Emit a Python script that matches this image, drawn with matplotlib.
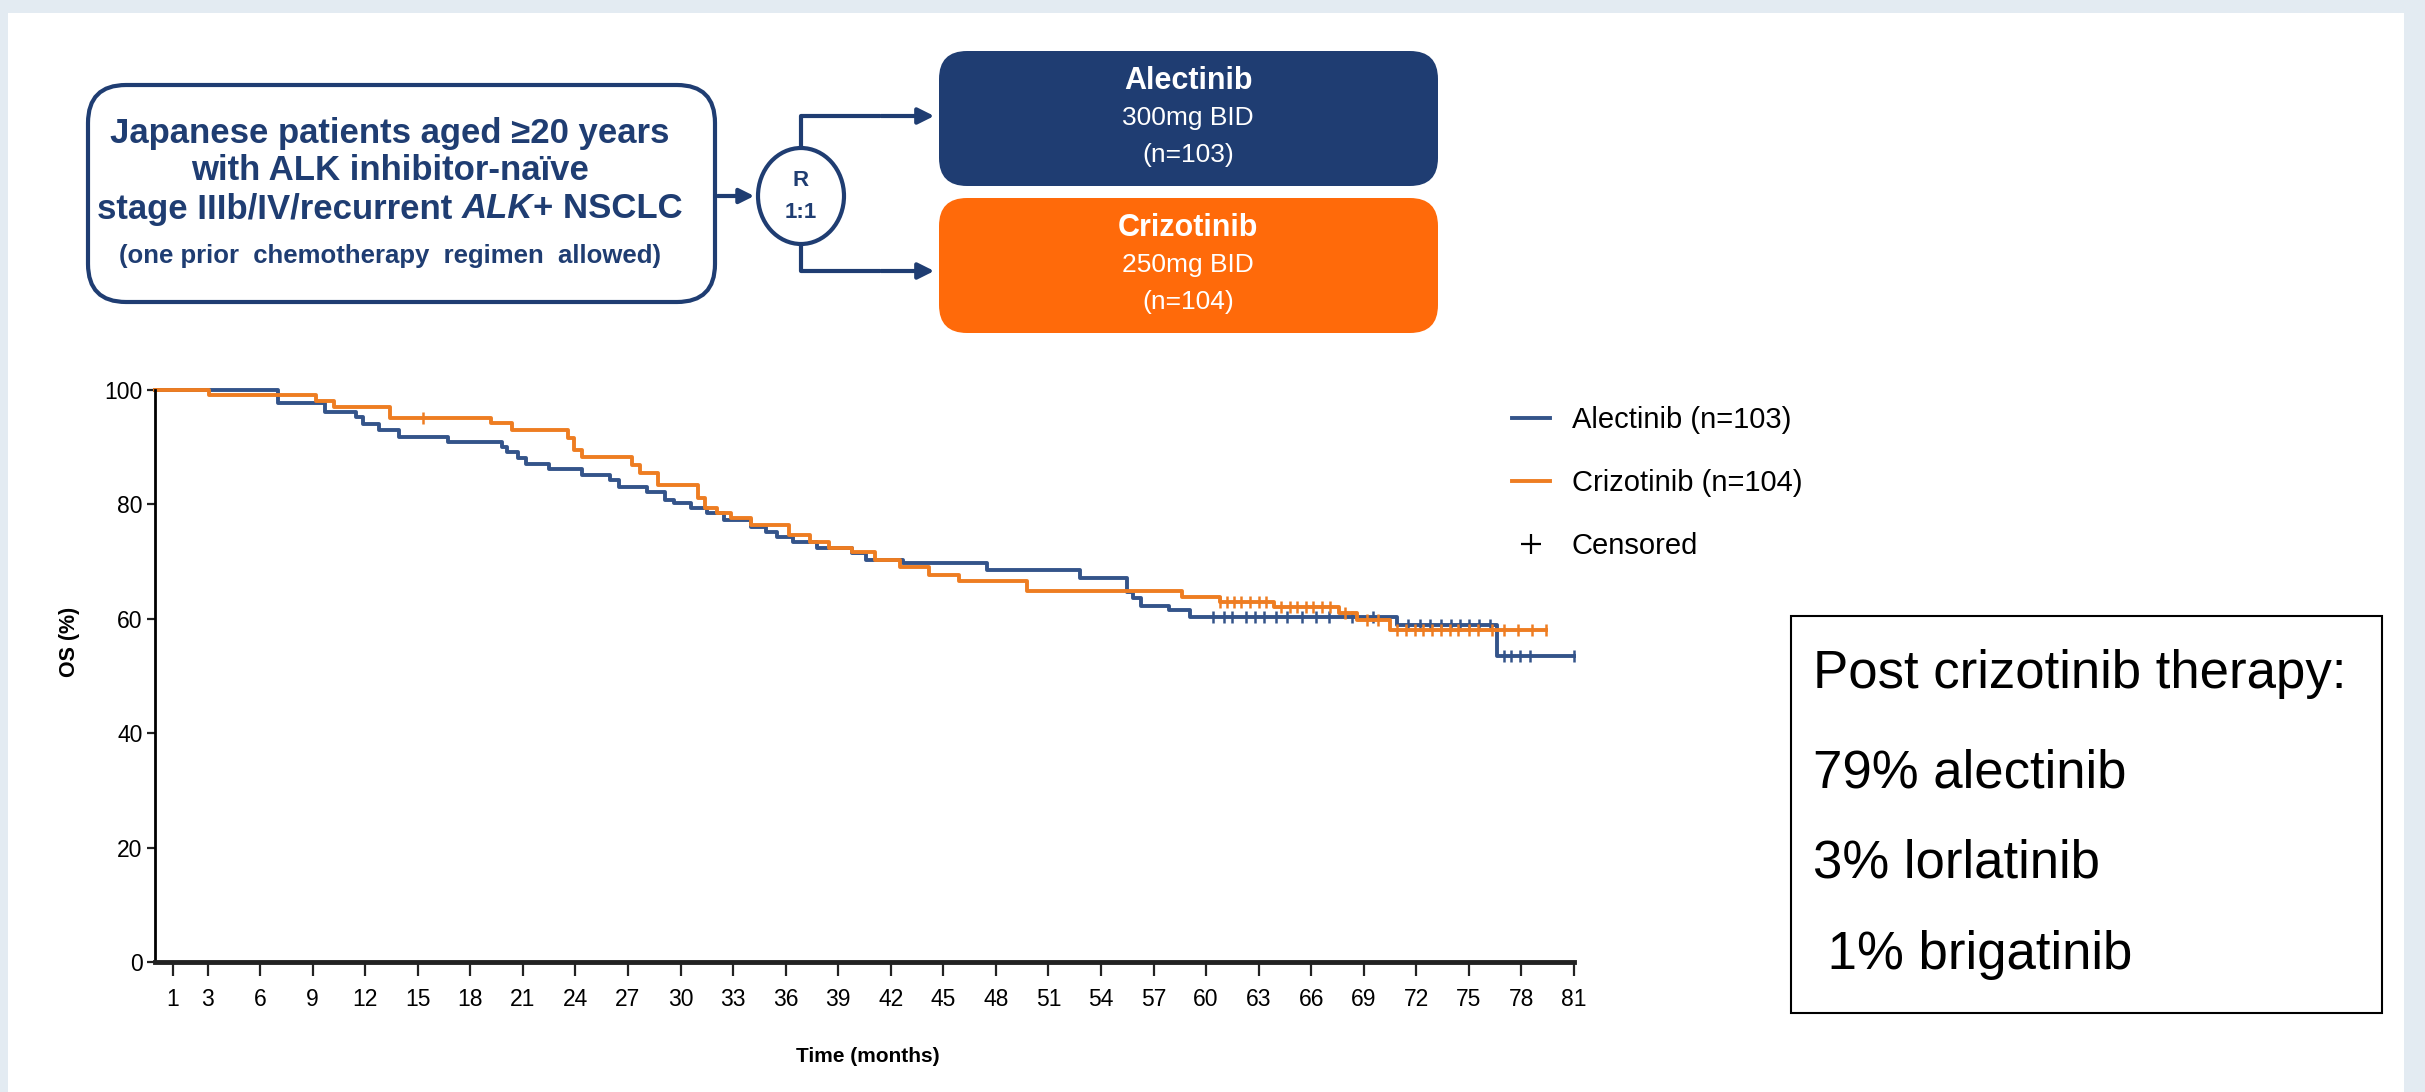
import numpy as np
import matplotlib
matplotlib.use("Agg")
import matplotlib.pyplot as plt
from matplotlib.patches import FancyBboxPatch, Rectangle, Ellipse
from matplotlib.lines import Line2D

# --- data (months, OS %) ---
alec_t = [0, 7.0, 9.7, 11.5, 11.9, 12.8, 13.9, 16.7, 19.8, 20.1, 20.7, 21.2, 22.5,
          24.4, 26.0, 26.5, 28.1, 29.1, 29.6, 30.6, 31.5, 32.5, 34.0, 34.9, 35.5,
          36.4, 37.8, 39.8, 40.6, 42.7, 47.5, 52.8, 55.5, 55.8, 56.3, 57.9, 59.1,
          70.9, 76.6]
alec_s = [100, 97.8, 96.2, 95.3, 94.0, 93.0, 91.8, 90.9, 90.0, 89.2, 88.1, 87.1, 86.2,
          85.1, 84.3, 83.0, 82.2, 80.8, 80.2, 79.4, 78.5, 77.3, 76.0, 75.2, 74.3,
          73.4, 72.4, 71.5, 70.3, 69.7, 68.5, 67.1, 64.7, 63.6, 62.2, 61.5, 60.3,
          58.9, 53.5]
alec_end = 81.0
alec_cens = [60.4, 61.0, 61.5, 62.3, 62.8, 63.3, 64.0, 64.6, 65.5, 66.3, 67.0, 68.3,
             69.5, 71.5, 72.2, 72.8, 73.4, 74.0, 74.5, 75.0, 75.6, 76.2, 77.0, 77.4,
             77.9, 78.5, 81.0]

crizo_t = [0, 3.1, 9.2, 10.2, 13.4, 19.2, 20.4, 23.6, 23.9, 24.4, 27.2, 27.7, 28.7,
           31.0, 31.4, 32.1, 32.9, 34.0, 36.2, 37.4, 38.5, 39.8, 41.1, 42.5, 44.2,
           45.9, 49.8, 58.6, 60.8, 63.9, 67.6, 68.6, 70.5]
crizo_s = [100, 99.1, 98.1, 97.1, 95.1, 94.2, 93.0, 91.6, 89.5, 88.3, 86.9, 85.5, 83.4,
           81.1, 79.4, 78.5, 77.6, 76.4, 74.7, 73.4, 72.4, 71.7, 70.3, 69.1, 67.7,
           66.6, 64.9, 63.8, 62.9, 62.1, 61.1, 59.8, 58.0]
crizo_end = 79.4
crizo_cens = [15.3, 60.8, 61.2, 61.6, 62.0, 62.5, 63.0, 63.4, 64.3, 64.8, 65.2, 65.7,
              66.1, 66.6, 67.1, 67.9, 69.2, 69.8, 70.9, 71.4, 71.9, 72.4, 72.9, 73.4,
              73.9, 74.4, 75.0, 75.5, 76.3, 77.0, 77.8, 78.6, 79.4]

x_ticks = [1, 3, 6, 9, 12, 15, 18, 21, 24, 27, 30, 33, 36, 39, 42, 45, 48, 51, 54,
           57, 60, 63, 66, 69, 72, 75, 78, 81]
y_ticks = [0, 20, 40, 60, 80, 100]
legend_labels = ["Alectinib (n=103)", "Crizotinib (n=104)", "Censored"]
box_lines = ["Post crizotinib therapy:", "79% alectinib", "3% lorlatinib", " 1% brigatinib"]

SANS = ["Liberation Sans", "DejaVu Sans"]
plt.rcParams["font.family"] = SANS

BLUE = "#34548a"
ORANGE = "#ee7d22"
NAVY = "#1f3d72"
ORANGE_BOX = "#ff6a0a"

W, H = 2425, 1092
fig = plt.figure(figsize=(W / 100, H / 100), dpi=100)
fig.patch.set_facecolor("#e3ebf2")

# overlay in pixel coordinates (y down)
over = fig.add_axes([0, 0, 1, 1], zorder=0)
over.set_xlim(0, W)
over.set_ylim(H, 0)
over.axis("off")
over.add_patch(Rectangle((8, 13), 2396, H - 13, facecolor="white", edgecolor="none"))

# study design diagram
TX = 390
over.add_patch(FancyBboxPatch((88, 85), 627, 217, boxstyle="round,pad=0,rounding_size=38",
                              facecolor="white", edgecolor=NAVY, lw=3))
over.text(TX, 133, "Japanese patients aged \u226520 years", ha="center", va="center",
          fontsize=25, fontweight="bold", color=NAVY)
over.text(TX, 171, "with ALK inhibitor-na\u00efve", ha="center", va="center",
          fontsize=25, fontweight="bold", color=NAVY)
parts = [("stage IIIb/IV/recurrent ", "normal"), ("ALK", "italic"), ("+ NSCLC", "normal")]
pieces = [over.text(0, 209, s, ha="left", va="center", fontsize=25, fontweight="bold",
                    fontstyle=st, color=NAVY) for s, st in parts]
renderer = fig.canvas.get_renderer()
widths = [p.get_window_extent(renderer).width for p in pieces]
x0 = TX - sum(widths) / 2
for p, w in zip(pieces, widths):
    p.set_x(x0)
    x0 += w
over.text(TX, 256, "(one prior  chemotherapy  regimen  allowed)", ha="center", va="center",
          fontsize=18.5, fontweight="bold", color=NAVY)

over.annotate("", xy=(757, 196), xytext=(715, 196),
              arrowprops=dict(arrowstyle="-|>", color=NAVY, lw=3, mutation_scale=22))
over.add_patch(Ellipse((801, 196), 86, 96, facecolor="white", edgecolor=NAVY, lw=3))
over.text(801, 181, "R", ha="center", va="center", fontsize=16, fontweight="bold", color=NAVY)
over.text(801, 213, "1:1", ha="center", va="center", fontsize=16, fontweight="bold", color=NAVY)
for yb, yc in [(116, 148), (271, 244)]:
    over.plot([801, 801, 880], [yc, yb, yb], color=NAVY, lw=3, solid_capstyle="butt")
    over.annotate("", xy=(937, yb), xytext=(878, yb),
                  arrowprops=dict(arrowstyle="-|>", color=NAVY, lw=3, mutation_scale=24))

for (ytop, fc, lines) in [(51, NAVY, ["Alectinib", "300mg BID", "(n=103)"]),
                          (198, ORANGE_BOX, ["Crizotinib", "250mg BID", "(n=104)"])]:
    over.add_patch(FancyBboxPatch((939, ytop), 499, 135, boxstyle="round,pad=0,rounding_size=28",
                                  facecolor=fc, edgecolor="none"))
    for i, s in enumerate(lines):
        over.text(1188, ytop + 30 + 37 * i, s, ha="center", va="center",
                  fontsize=22 if i == 0 else 19, fontweight="bold" if i == 0 else "normal",
                  color="white")

# text box on the right
over.add_patch(Rectangle((1791, 616), 591, 397, facecolor="white", edgecolor="black", lw=1.5))
for s, yc in zip(box_lines, [674, 774, 864, 955]):
    over.text(1813, yc, s, ha="left", va="center", fontsize=38, color="black")

# KM plot
ax = fig.add_axes([155 / W, 1 - 962 / H, (1574 - 155) / W, (962 - 390) / H], zorder=1)
ax.patch.set_alpha(0)
ax.set_xlim(0, 81)
ax.set_ylim(0, 100)


def surv_at(t_steps, s_steps, times):
    idx = np.searchsorted(t_steps, times, side="right") - 1
    return np.asarray(s_steps)[idx]


for t, s, end, cens, col in [(alec_t, alec_s, alec_end, alec_cens, BLUE),
                             (crizo_t, crizo_s, crizo_end, crizo_cens, ORANGE)]:
    ax.step(np.append(t, end), np.append(s, s[-1]), where="post", color=col, lw=2.8,
            clip_on=False)
    ax.plot(cens, surv_at(t, s, cens), linestyle="none", marker="|", color=col,
            markersize=9, mew=1.8, clip_on=False)

ax.set_xticks(x_ticks)
ax.set_yticks(y_ticks)
for side in ["top", "right"]:
    ax.spines[side].set_visible(False)
ax.spines["left"].set_linewidth(2)
ax.spines["bottom"].set_linewidth(3.5)
ax.spines["bottom"].set_color("#222222")
ax.tick_params(axis="x", length=10, width=1.6, pad=9, labelsize=16.5, color="#222222")
ax.tick_params(axis="y", length=6, width=1.6, pad=3, labelsize=16.5, color="#222222")

fig.text(70 / W, 1 - 642 / H, "OS (%)", rotation=90, ha="center", va="center",
         fontsize=15.5, fontweight="bold")
fig.text(868 / W, 1 - 1056 / H, "Time (months)", ha="center", va="center",
         fontsize=15, fontweight="bold")

handles = [Line2D([], [], color=BLUE, lw=2.8), Line2D([], [], color=ORANGE, lw=2.8),
           Line2D([], [], color="black", marker="+", linestyle="none", markersize=14, mew=1.6)]
fig.legend(handles, legend_labels, loc="upper left", bbox_to_anchor=(1512 / W, 1 - 406 / H),
           frameon=False, fontsize=21, handlelength=1.3, handletextpad=0.75,
           labelspacing=1.2, borderpad=0, borderaxespad=0)

fig.savefig("out.png", dpi=100, facecolor=fig.get_facecolor())
